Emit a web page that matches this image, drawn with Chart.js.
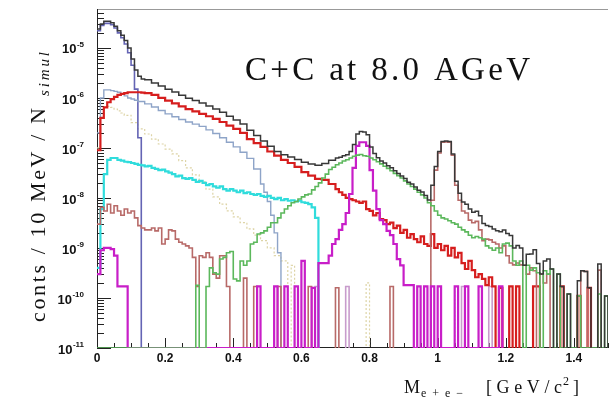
<!DOCTYPE html>
<html>
<head>
<meta charset="utf-8">
<script src="https://cdn.jsdelivr.net/npm/chart.js@4.4.1/dist/chart.umd.min.js"></script>
<style>
  html, body { margin: 0; padding: 0; background: #fff; }
  #plot { display: block; }
</style>
</head>
<body>
<canvas id="plot" width="610" height="398"></canvas>
<script>
// Dielectron invariant-mass cocktail, 10 MeV bins, log scale.
// Each series is a list of [bin low edge (GeV/c^2), counts]; the last entry closes the histogram.

const FLOOR = 1e-11;
const Y_MAX = 6e-5;
const M_MAX = 1.5;

const massTicks = [0, 0.2, 0.4, 0.6, 0.8, 1.0, 1.2, 1.4];
const massTickLabels = ['0', '0.2', '0.4', '0.6', '0.8', '1', '1.2', '1.4'];
const decadeExponents = [-11, -10, -9, -8, -7, -6, -5];

const sumBins = [
  [0.00, 2.4e-5], [0.01, 3.0e-5], [0.02, 3.4e-5], [0.03, 3.4e-5], [0.04, 3.2e-5], [0.05, 2.7e-5],
  [0.06, 2.2e-5], [0.07, 1.8e-5], [0.08, 1.4e-5], [0.09, 1.0e-5], [0.10, 6.0e-6], [0.11, 3.6e-6],
  [0.12, 2.7e-6], [0.13, 2.4e-6], [0.14, 2.3e-6], [0.16, 2.0e-6], [0.18, 1.73e-6], [0.20, 1.49e-6],
  [0.22, 1.31e-6], [0.24, 1.13e-6], [0.26, 9.9e-7], [0.28, 8.9e-7], [0.30, 7.9e-7], [0.32, 6.9e-7],
  [0.34, 6.0e-7], [0.36, 5.15e-7], [0.38, 4.3e-7], [0.40, 3.6e-7], [0.42, 3.0e-7], [0.44, 2.27e-7],
  [0.46, 1.78e-7], [0.48, 1.38e-7], [0.50, 1.08e-7], [0.52, 8.5e-8], [0.54, 7.3e-8], [0.56, 6.6e-8],
  [0.58, 5.9e-8], [0.60, 5.2e-8], [0.62, 4.8e-8], [0.64, 4.5e-8], [0.66, 4.9e-8], [0.68, 5.7e-8],
  [0.70, 6.3e-8], [0.71, 6.5e-8], [0.72, 7.0e-8], [0.73, 7.3e-8], [0.74, 8.5e-8], [0.75, 1.17e-7],
  [0.76, 1.9e-7], [0.77, 2.12e-7], [0.78, 2.08e-7], [0.79, 1.84e-7], [0.80, 1.05e-7], [0.81, 7.7e-8],
  [0.82, 6.4e-8], [0.83, 5.5e-8], [0.84, 5.0e-8], [0.85, 4.4e-8], [0.86, 4.0e-8], [0.87, 3.5e-8],
  [0.88, 3.1e-8], [0.89, 2.75e-8], [0.90, 2.45e-8], [0.91, 2.07e-8], [0.92, 1.9e-8], [0.93, 1.65e-8],
  [0.94, 1.43e-8], [0.95, 1.32e-8], [0.96, 1.12e-8], [0.97, 9.1e-9], [0.98, 1.8e-8], [0.99, 4.25e-8],
  [1.00, 8.5e-8], [1.01, 1.35e-7], [1.02, 1.37e-7], [1.03, 1.34e-7], [1.04, 7.6e-8], [1.05, 2.17e-8],
  [1.06, 1.24e-8], [1.07, 8.3e-9], [1.08, 7.5e-9], [1.09, 6.0e-9], [1.10, 5.2e-9], [1.11, 5.4e-9],
  [1.12, 4.4e-9], [1.13, 3.1e-9], [1.14, 2.8e-9], [1.15, 2.7e-9], [1.16, 2.4e-9], [1.17, 2.2e-9],
  [1.18, 2.1e-9], [1.19, 2.3e-9], [1.20, 1.95e-9], [1.21, 1.77e-9], [1.22, 1.0e-9], [1.23, 1.12e-9],
  [1.24, 1.0e-9], [1.25, 4.5e-10], [1.26, 7.5e-10], [1.27, 7.6e-10], [1.28, 9.2e-10], [1.29, 4.9e-10],
  [1.30, 3.0e-10], [1.31, 5.5e-10], [1.32, 6.0e-10], [1.33, 3.8e-10], [1.34, 0], [1.35, 3.0e-10],
  [1.36, 1.7e-10], [1.37, 0], [1.38, 1.2e-10], [1.39, 0], [1.41, 2.2e-10], [1.42, 3.5e-10],
  [1.43, 3.4e-10], [1.44, 1.6e-10], [1.45, 0], [1.47, 4.8e-10], [1.48, 0], [1.49, 1.1e-10], [1.50, 0]
];

const pi0Bins = [
  [0.00, 2.2e-5], [0.01, 2.8e-5], [0.02, 3.1e-5], [0.03, 3.1e-5], [0.04, 2.9e-5], [0.05, 2.5e-5],
  [0.06, 2.0e-5], [0.07, 1.6e-5], [0.08, 1.2e-5], [0.09, 8.0e-6], [0.10, 4.5e-6], [0.11, 1.5e-6],
  [0.12, 1.6e-7], [0.13, 0]
];

const etaBins = [
  [0.00, 2.0e-7], [0.01, 1.0e-6], [0.02, 1.45e-6], [0.03, 1.45e-6], [0.04, 1.4e-6], [0.05, 1.35e-6],
  [0.06, 1.3e-6], [0.07, 1.2e-6], [0.08, 1.1e-6], [0.09, 1.0e-6], [0.10, 9.5e-7], [0.11, 9.0e-7],
  [0.12, 8.5e-7], [0.14, 7.6e-7], [0.16, 6.6e-7], [0.18, 5.6e-7], [0.20, 4.8e-7], [0.22, 4.2e-7],
  [0.24, 3.7e-7], [0.26, 3.3e-7], [0.28, 3.0e-7], [0.30, 2.7e-7], [0.32, 2.3e-7], [0.34, 1.95e-7],
  [0.36, 1.6e-7], [0.38, 1.3e-7], [0.40, 1.05e-7], [0.42, 8.2e-8], [0.44, 6.2e-8], [0.46, 3.8e-8],
  [0.48, 1.9e-8], [0.49, 1.3e-8], [0.50, 8.5e-9], [0.51, 4.5e-9], [0.52, 2.0e-9], [0.53, 8.0e-10],
  [0.54, 0]
];

const deltaBins = [
  [0.00, 9.0e-8], [0.01, 4.0e-7], [0.02, 6.5e-7], [0.03, 8.2e-7], [0.04, 9.5e-7], [0.05, 1.05e-6],
  [0.06, 1.15e-6], [0.07, 1.2e-6], [0.08, 1.25e-6], [0.09, 1.3e-6], [0.10, 1.3e-6], [0.11, 1.3e-6],
  [0.12, 1.3e-6], [0.13, 1.28e-6], [0.14, 1.25e-6], [0.16, 1.15e-6], [0.18, 1.0e-6], [0.20, 8.8e-7],
  [0.22, 7.8e-7], [0.24, 6.8e-7], [0.26, 6.0e-7], [0.28, 5.4e-7], [0.30, 4.8e-7], [0.32, 4.3e-7],
  [0.34, 3.8e-7], [0.36, 3.3e-7], [0.38, 2.8e-7], [0.40, 2.4e-7], [0.42, 2.0e-7], [0.44, 1.5e-7],
  [0.46, 1.25e-7], [0.48, 1.05e-7], [0.50, 8.5e-8], [0.52, 7.0e-8], [0.54, 5.8e-8], [0.56, 5.0e-8],
  [0.58, 4.2e-8], [0.60, 3.3e-8], [0.62, 2.8e-8], [0.64, 2.4e-8], [0.66, 2.3e-8], [0.68, 1.9e-8],
  [0.70, 1.5e-8], [0.71, 1.3e-8], [0.72, 1.15e-8], [0.73, 1.0e-8], [0.74, 9.5e-9], [0.75, 9.0e-9],
  [0.76, 8.5e-9], [0.77, 8.0e-9], [0.78, 8.5e-9], [0.79, 6.0e-9], [0.80, 5.5e-9], [0.81, 4.5e-9],
  [0.82, 5.0e-9], [0.83, 3.8e-9], [0.84, 3.6e-9], [0.85, 3.0e-9], [0.86, 3.2e-9], [0.87, 2.5e-9],
  [0.88, 2.8e-9], [0.89, 2.0e-9], [0.90, 2.3e-9], [0.91, 1.6e-9], [0.92, 1.9e-9], [0.93, 1.5e-9],
  [0.94, 1.3e-9], [0.95, 1.7e-9], [0.96, 1.2e-9], [0.97, 1.1e-9], [0.98, 1.9e-9], [0.99, 1.0e-9],
  [1.00, 1.2e-9], [1.01, 9.0e-10], [1.02, 1.1e-9], [1.03, 7.0e-10], [1.04, 1.0e-9], [1.05, 6.5e-10],
  [1.06, 8.0e-10], [1.07, 5.0e-10], [1.08, 3.8e-10], [1.09, 5.5e-10], [1.10, 3.6e-10], [1.11, 2.6e-10],
  [1.12, 3.0e-10], [1.13, 2.4e-10], [1.14, 1.8e-10], [1.15, 2.6e-10], [1.16, 1.7e-10], [1.17, 0],
  [1.18, 1.6e-10], [1.19, 0], [1.21, 1.7e-10], [1.22, 0], [1.23, 1.7e-10], [1.24, 0],
  [1.28, 1.7e-10], [1.30, 0], [1.36, 1.7e-10], [1.37, 0], [1.41, 1.1e-10], [1.42, 0],
  [1.44, 1.6e-10], [1.45, 0]
];

const omegaDalitzBins = [
  [0.00, 4.0e-10], [0.01, 6.0e-9], [0.02, 3.0e-8], [0.03, 5.8e-8], [0.04, 6.3e-8], [0.05, 6.3e-8],
  [0.06, 5.8e-8], [0.07, 5.6e-8], [0.08, 5.3e-8], [0.09, 5.2e-8], [0.10, 5.0e-8], [0.11, 4.8e-8],
  [0.12, 4.6e-8], [0.13, 4.5e-8], [0.14, 4.3e-8], [0.15, 4.4e-8], [0.16, 4.0e-8], [0.17, 3.8e-8],
  [0.18, 3.6e-8], [0.19, 3.7e-8], [0.20, 3.4e-8], [0.21, 3.2e-8], [0.22, 3.0e-8], [0.23, 2.7e-8],
  [0.24, 2.8e-8], [0.25, 2.5e-8], [0.26, 2.4e-8], [0.27, 2.5e-8], [0.28, 2.3e-8], [0.29, 2.1e-8],
  [0.30, 2.2e-8], [0.31, 2.0e-8], [0.32, 1.8e-8], [0.33, 1.9e-8], [0.34, 1.7e-8], [0.35, 1.6e-8],
  [0.36, 1.7e-8], [0.37, 1.5e-8], [0.38, 1.4e-8], [0.39, 1.5e-8], [0.40, 1.4e-8], [0.41, 1.3e-8],
  [0.42, 1.4e-8], [0.43, 1.25e-8], [0.44, 1.3e-8], [0.45, 1.2e-8], [0.46, 1.15e-8], [0.47, 1.2e-8],
  [0.48, 1.1e-8], [0.49, 1.05e-8], [0.50, 1.1e-8], [0.51, 1.0e-8], [0.52, 9.5e-9], [0.53, 1.0e-8],
  [0.54, 9.0e-9], [0.55, 9.5e-9], [0.56, 8.8e-9], [0.57, 9.0e-9], [0.58, 8.5e-9], [0.59, 8.8e-9],
  [0.60, 8.2e-9], [0.61, 8.0e-9], [0.62, 7.5e-9], [0.63, 6.5e-9], [0.64, 4.0e-9], [0.65, 0]
];

const rhoBins = [
  [0.00, 0], [0.29, 1.8e-10], [0.30, 0], [0.32, 1.7e-10], [0.33, 4.0e-10], [0.34, 3.2e-10],
  [0.35, 3.0e-10], [0.36, 6.0e-10], [0.37, 6.5e-10], [0.38, 8.0e-10], [0.39, 8.5e-10], [0.40, 2.4e-10],
  [0.41, 2.2e-10], [0.42, 5.5e-10], [0.43, 4.5e-10], [0.44, 5.5e-10], [0.45, 1.2e-9], [0.46, 1.3e-9],
  [0.47, 1.9e-9], [0.48, 2.0e-9], [0.49, 2.2e-9], [0.50, 2.6e-9], [0.51, 3.2e-9], [0.52, 3.2e-9],
  [0.53, 4.0e-9], [0.54, 5.0e-9], [0.55, 6.0e-9], [0.56, 7.0e-9], [0.57, 8.0e-9], [0.58, 8.5e-9],
  [0.59, 9.5e-9], [0.60, 1.05e-8], [0.61, 1.15e-8], [0.62, 1.2e-8], [0.63, 1.45e-8], [0.64, 1.7e-8],
  [0.65, 2.0e-8], [0.66, 2.5e-8], [0.67, 3.0e-8], [0.68, 3.7e-8], [0.69, 4.1e-8], [0.70, 4.6e-8],
  [0.71, 5.0e-8], [0.72, 5.5e-8], [0.73, 5.8e-8], [0.74, 6.3e-8], [0.75, 6.8e-8], [0.76, 7.2e-8],
  [0.77, 7.4e-8], [0.78, 7.0e-8], [0.79, 6.8e-8], [0.80, 6.3e-8], [0.81, 5.8e-8], [0.82, 5.3e-8],
  [0.83, 4.8e-8], [0.84, 4.3e-8], [0.85, 3.9e-8], [0.86, 3.5e-8], [0.87, 3.1e-8], [0.88, 2.8e-8],
  [0.89, 2.5e-8], [0.90, 2.2e-8], [0.91, 1.9e-8], [0.92, 1.7e-8], [0.93, 1.5e-8], [0.94, 1.3e-8],
  [0.95, 1.15e-8], [0.96, 1.0e-8], [0.97, 8.0e-9], [0.98, 7.0e-9], [0.99, 5.5e-9], [1.00, 4.5e-9],
  [1.01, 4.0e-9], [1.02, 3.8e-9], [1.03, 3.5e-9], [1.04, 3.2e-9], [1.05, 3.0e-9], [1.06, 2.6e-9],
  [1.07, 2.3e-9], [1.08, 2.1e-9], [1.09, 1.8e-9], [1.10, 1.6e-9], [1.11, 1.7e-9], [1.12, 1.6e-9],
  [1.13, 1.5e-9], [1.14, 1.1e-9], [1.15, 1.0e-9], [1.16, 9.0e-10], [1.17, 1.0e-9], [1.18, 8.0e-10],
  [1.19, 1.2e-9], [1.20, 1.25e-9], [1.21, 1.1e-9], [1.22, 5.5e-10], [1.23, 4.5e-10], [1.24, 5.5e-10],
  [1.25, 0], [1.26, 4.5e-10], [1.27, 3.6e-10], [1.28, 4.0e-10], [1.29, 3.2e-10], [1.30, 0],
  [1.31, 3.5e-10], [1.32, 3.0e-10], [1.33, 3.8e-10], [1.34, 0], [1.35, 3.0e-10], [1.36, 0],
  [1.38, 1.2e-10], [1.39, 0], [1.41, 1.1e-10], [1.42, 0], [1.47, 1.2e-10], [1.48, 0],
  [1.49, 1.1e-10], [1.50, 0]
];

const omegaBins = [
  [0.00, 3.0e-10], [0.01, 9.0e-10], [0.02, 1.0e-9], [0.03, 1.0e-9], [0.04, 9.5e-10], [0.05, 7.0e-10],
  [0.06, 1.7e-10], [0.09, 0], [0.47, 1.7e-10], [0.48, 0], [0.52, 1.7e-10], [0.53, 0],
  [0.55, 1.7e-10], [0.56, 0], [0.58, 1.7e-10], [0.59, 0], [0.60, 5.5e-10], [0.61, 0],
  [0.63, 1.6e-10], [0.64, 0], [0.65, 5.0e-10], [0.66, 5.0e-10], [0.67, 5.0e-10], [0.68, 7.0e-10],
  [0.69, 1.2e-9], [0.70, 1.5e-9], [0.71, 2.3e-9], [0.72, 3.0e-9], [0.73, 5.0e-9], [0.74, 1.2e-8],
  [0.75, 4.0e-8], [0.76, 1.1e-7], [0.77, 1.3e-7], [0.78, 1.3e-7], [0.79, 1.1e-7], [0.80, 3.6e-8],
  [0.81, 1.4e-8], [0.82, 6.0e-9], [0.83, 3.6e-9], [0.84, 3.0e-9], [0.85, 2.2e-9], [0.86, 1.8e-9],
  [0.87, 1.2e-9], [0.88, 6.0e-10], [0.89, 4.5e-10], [0.90, 1.8e-10], [0.93, 0], [0.94, 1.7e-10],
  [0.95, 0], [0.96, 1.7e-10], [0.97, 0], [0.98, 1.7e-10], [0.99, 0], [1.00, 1.7e-10],
  [1.01, 0], [1.05, 1.7e-10], [1.06, 0], [1.08, 1.7e-10], [1.09, 0], [1.12, 1.7e-10],
  [1.13, 0], [1.18, 1.7e-10], [1.19, 0]
];

const phiBins = [
  [0.00, 3.0e-9], [0.01, 6.5e-9], [0.02, 5.5e-9], [0.03, 7.5e-9], [0.04, 5.0e-9], [0.05, 7.0e-9],
  [0.06, 5.5e-9], [0.07, 4.5e-9], [0.08, 6.0e-9], [0.09, 5.0e-9], [0.10, 5.5e-9], [0.11, 4.0e-9],
  [0.12, 2.8e-9], [0.13, 2.5e-9], [0.14, 2.3e-9], [0.15, 2.3e-9], [0.16, 2.5e-9], [0.17, 2.2e-9],
  [0.18, 2.5e-9], [0.19, 1.2e-9], [0.20, 1.5e-9], [0.21, 2.3e-9], [0.22, 2.2e-9], [0.23, 1.5e-9],
  [0.24, 1.3e-9], [0.25, 1.2e-9], [0.26, 1.1e-9], [0.27, 1.0e-9], [0.28, 6.5e-10], [0.29, 1.7e-10],
  [0.30, 7.0e-10], [0.31, 6.5e-10], [0.32, 8.0e-10], [0.33, 6.5e-10], [0.34, 3.0e-10], [0.35, 2.5e-10],
  [0.36, 7.0e-10], [0.37, 7.0e-10], [0.38, 1.7e-10], [0.39, 0], [0.43, 2.5e-10], [0.44, 0],
  [0.46, 1.7e-10], [0.47, 0], [0.53, 1.7e-10], [0.54, 0], [0.62, 1.7e-10], [0.63, 0],
  [0.70, 1.6e-10], [0.71, 0], [0.86, 1.7e-10], [0.87, 0], [0.98, 9.0e-9], [0.99, 3.6e-8],
  [1.00, 7.9e-8], [1.01, 1.3e-7], [1.02, 1.32e-7], [1.03, 1.3e-7], [1.04, 7.2e-8], [1.05, 1.8e-8],
  [1.06, 9.0e-9], [1.07, 5.5e-9], [1.08, 5.0e-9], [1.09, 3.6e-9], [1.10, 3.2e-9], [1.11, 3.4e-9],
  [1.12, 2.3e-9], [1.13, 1.4e-9], [1.14, 1.5e-9], [1.15, 1.45e-9], [1.16, 1.3e-9], [1.17, 1.2e-9],
  [1.18, 1.0e-9], [1.19, 1.1e-9], [1.20, 7.0e-10], [1.21, 5.0e-10], [1.22, 4.6e-10], [1.23, 5.0e-10],
  [1.24, 4.6e-10], [1.25, 4.5e-10], [1.26, 3.0e-10], [1.27, 4.0e-10], [1.28, 3.5e-10], [1.29, 0],
  [1.30, 3.0e-10], [1.31, 2.0e-10], [1.32, 3.0e-10], [1.33, 0], [1.42, 3.5e-10], [1.43, 3.4e-10],
  [1.44, 0], [1.47, 3.6e-10], [1.48, 0]
];

const etaPrimeBins = [
  [0.00, 1.0e-7], [0.01, 4.0e-7], [0.02, 6.5e-7], [0.03, 6.8e-7], [0.04, 6.5e-7], [0.05, 6.0e-7],
  [0.06, 5.5e-7], [0.07, 5.0e-7], [0.08, 4.5e-7], [0.10, 3.2e-7], [0.12, 2.4e-7], [0.14, 1.9e-7],
  [0.16, 1.5e-7], [0.18, 1.2e-7], [0.20, 9.5e-8], [0.22, 7.6e-8], [0.24, 5.6e-8], [0.26, 4.0e-8],
  [0.28, 2.9e-8], [0.30, 2.1e-8], [0.32, 1.5e-8], [0.34, 1.05e-8], [0.36, 7.5e-9], [0.38, 5.5e-9],
  [0.40, 4.2e-9], [0.42, 3.2e-9], [0.44, 2.4e-9], [0.46, 1.8e-9], [0.48, 1.4e-9], [0.50, 1.0e-9],
  [0.52, 7.0e-10], [0.54, 5.5e-10], [0.56, 0], [0.57, 4.5e-10], [0.58, 0], [0.79, 2.0e-10],
  [0.80, 0], [1.05, 1.7e-10], [1.06, 0]
];

const lilacBins = [
  [0.00, 0], [0.64, 1.7e-10], [0.65, 0], [0.73, 1.7e-10], [0.74, 0], [1.07, 1.7e-10],
  [1.08, 0], [1.15, 1.7e-10], [1.16, 0]
];

// empty bins either lie on the axis floor or drop out below it
function toSteps(bins, onFloor) {
  const empty = onFloor ? FLOOR : FLOOR / 100;
  return bins.map(([m, v]) => ({ x: m, y: v > 0 ? v : empty }));
}

function histo(bins, color, width, onFloor, dash) {
  return {
    data: toSteps(bins, onFloor),
    borderColor: color,
    borderWidth: width,
    borderDash: dash || [],
    stepped: 'before',
    pointRadius: 0,
    fill: false
  };
}

// first entry is drawn on top
const datasets = [
  histo(sumBins, '#383838', 1.5, false),
  histo(rhoBins, '#5cb85c', 1.6, true),
  histo(omegaBins, '#c81ec8', 2.2, true),
  histo(phiBins, '#b86a68', 1.6, false),
  histo(deltaBins, '#d61e1e', 2.2, false),
  histo(omegaDalitzBins, '#30dcdc', 2.2, false),
  histo(etaBins, '#8ea4c8', 1.4, false),
  histo(pi0Bins, '#6464b4', 1.6, false),
  histo(lilacBins, '#c89ccc', 1.6, false),
  histo(etaPrimeBins, '#ddd4a6', 1.2, false, [2, 2])
];

// draws text stretched to a given advance, returns the x where it ends
function spacedText(ctx, text, x, y, target) {
  const natural = ctx.measureText(text).width;
  const n = [...text].length;
  if ('letterSpacing' in ctx && n > 1) {
    const gap = Math.max(0, (target - natural) / (n - 1));
    ctx.letterSpacing = gap + 'px';
    ctx.fillText(text, x, y);
    ctx.letterSpacing = '0px';
    return x + natural + gap * (n - 1);
  }
  ctx.save();
  ctx.translate(x, y);
  ctx.scale(target / natural, 1);
  ctx.fillText(text, 0, 0);
  ctx.restore();
  return x + target;
}

const SERIF = '"Liberation Serif", "Times New Roman", serif';
const SANS = '"Liberation Sans", Arial, sans-serif';

const axisDecor = {
  id: 'axisDecor',
  beforeDatasetsDraw(chart) {
    const { ctx, chartArea: a, scales } = chart;
    const xs = scales.x, ys = scales.y;
    ctx.save();
    ctx.lineWidth = 1;

    ctx.strokeStyle = '#999';
    ctx.beginPath();
    ctx.moveTo(a.left, a.top + 0.5);
    ctx.lineTo(a.right, a.top + 0.5);
    ctx.stroke();

    ctx.strokeStyle = '#222';
    ctx.beginPath();
    ctx.moveTo(a.left + 0.5, a.top);
    ctx.lineTo(a.left + 0.5, a.bottom);
    ctx.moveTo(a.left, a.bottom - 0.5);
    ctx.lineTo(a.right, a.bottom - 0.5);

    // log ticks, drawn inward
    for (const e of decadeExponents) {
      for (let k = 1; k <= 9; k++) {
        const v = k * Math.pow(10, e);
        if (v > Y_MAX) break;
        const py = Math.round(ys.getPixelForValue(v)) + 0.5;
        ctx.moveTo(a.left, py);
        ctx.lineTo(a.left + (k === 1 ? 14 : 7), py);
      }
    }
    for (let i = 0; i * 0.05 <= M_MAX + 1e-9; i++) {
      const px = Math.round(xs.getPixelForValue(i * 0.05)) + 0.5;
      ctx.moveTo(px, a.bottom);
      ctx.lineTo(px, a.bottom - (i % 4 === 0 ? 10 : 5));
    }
    ctx.stroke();
    ctx.restore();
  },
  afterDraw(chart) {
    const { ctx, chartArea: a, scales } = chart;
    const xs = scales.x, ys = scales.y;
    ctx.save();
    ctx.fillStyle = '#111';

    // y tick labels 10^n
    for (const e of decadeExponents) {
      const py = ys.getPixelForValue(Math.pow(10, e));
      const exp = String(e);
      ctx.font = 'bold 8px ' + SANS;
      ctx.textAlign = 'right';
      ctx.textBaseline = 'alphabetic';
      const ew = ctx.measureText(exp).width;
      ctx.fillText(exp, 84, py - 1);
      ctx.font = 'bold 13px ' + SANS;
      ctx.textBaseline = 'middle';
      ctx.fillText('10', 84 - ew - 0.5, py + 2);
    }

    // x tick labels
    ctx.font = 'bold 12px ' + SANS;
    ctx.textAlign = 'center';
    ctx.textBaseline = 'middle';
    massTicks.forEach((m, i) => {
      ctx.fillText(massTickLabels[i], xs.getPixelForValue(m), a.bottom + 11);
    });

    ctx.textAlign = 'left';
    ctx.textBaseline = 'alphabetic';

    // system label
    ctx.font = '33px ' + SERIF;
    spacedText(ctx, 'C+C at 8.0 AGeV', 245, 80, 285);

    // x axis title
    ctx.font = '18px ' + SERIF;
    ctx.fillText('M', 404, 393);
    ctx.font = '12px ' + SERIF;
    spacedText(ctx, 'e+e\u2212', 421, 397, 42);
    ctx.font = '18px ' + SERIF;
    let end = spacedText(ctx, '[GeV/c', 486, 393, 76);
    ctx.font = '12px ' + SERIF;
    ctx.fillText('2', end + 1, 385);
    end += 1 + ctx.measureText('2').width;
    ctx.font = '18px ' + SERIF;
    ctx.fillText(']', end + 4, 393);

    // y axis title, reading upward
    ctx.translate(45, 322);
    ctx.rotate(-Math.PI / 2);
    ctx.font = '22px ' + SERIF;
    spacedText(ctx, 'conts / 10 MeV / N', 0, 0, 214);
    ctx.font = 'italic 15px ' + SERIF;
    spacedText(ctx, 'simul', 226, 4, 44);
    ctx.restore();
  }
};

new Chart(document.getElementById('plot'), {
  type: 'line',
  data: { datasets },
  options: {
    responsive: false,
    animation: false,
    devicePixelRatio: 1,
    events: [],
    layout: { padding: { top: 9, right: 2, left: 0, bottom: 0 } },
    plugins: {
      legend: { display: false },
      tooltip: { enabled: false }
    },
    elements: {
      line: { tension: 0, borderJoinStyle: 'miter', borderCapStyle: 'butt' },
      point: { radius: 0 }
    },
    scales: {
      x: {
        type: 'linear',
        min: 0,
        max: M_MAX,
        grid: { display: false },
        border: { display: false },
        ticks: { display: false },
        afterFit: s => { s.height = 50; }
      },
      y: {
        type: 'logarithmic',
        min: FLOOR,
        max: Y_MAX,
        grid: { display: false },
        border: { display: false },
        ticks: { display: false },
        afterFit: s => { s.width = 97; }
      }
    }
  },
  plugins: [axisDecor]
});
</script>
</body>
</html>
